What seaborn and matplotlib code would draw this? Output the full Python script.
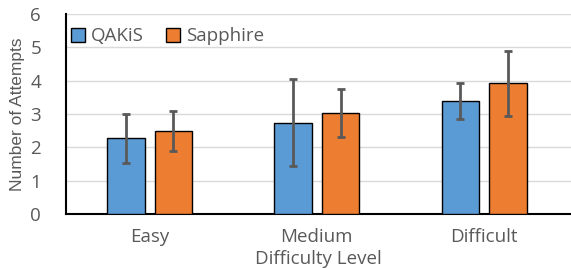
import matplotlib
matplotlib.use("Agg")
import matplotlib.pyplot as plt
import seaborn as sns
import pandas as pd
import numpy as np

levels = ["Easy", "Medium", "Difficult"]
systems = ["QAKiS", "Sapphire"]
qakis_mean = [2.27, 2.74, 3.39]
qakis_err = [0.73, 1.30, 0.55]
sapphire_mean = [2.49, 3.03, 3.92]
sapphire_err = [0.61, 0.73, 0.97]

df = pd.DataFrame({
    "level": levels * 2,
    "system": ["QAKiS"] * 3 + ["Sapphire"] * 3,
    "attempts": qakis_mean + sapphire_mean,
    "err": qakis_err + sapphire_err,
})

sns.set_style("white")
plt.rcParams["font.family"] = ["Open Sans", "DejaVu Sans"]
grey = "#595959"
fs = 13.5

fig = plt.figure(figsize=(5.71, 2.68), dpi=100)
ax = fig.add_axes([0.1156, 0.2015, 0.8844, 0.7463])

palette = {"QAKiS": "#5b9bd5", "Sapphire": "#ed7d31"}
sns.barplot(data=df, x="level", y="attempts", hue="system", hue_order=systems,
            order=levels, palette=palette, width=0.568, gap=0.21,
            errorbar=None, edgecolor="black", linewidth=1.0, saturation=1,
            ax=ax, zorder=3)

# error bars at bar centres
for cont, sys_name in zip(ax.containers, systems):
    sub = df[df.system == sys_name].set_index("level").loc[levels]
    xs = [p.get_x() + p.get_width() / 2 for p in cont.patches]
    ax.errorbar(xs, sub["attempts"], yerr=sub["err"], fmt="none",
                ecolor="#595959", elinewidth=2, capsize=3, capthick=2, zorder=4)

ax.set_ylim(0, 6)
ax.set_yticks(range(7))
ax.set_xlim(-0.5, 2.52)
ax.yaxis.grid(True, color="#d9d9d9", linewidth=1, zorder=0)
ax.set_axisbelow(True)
for s in ["top", "right"]:
    ax.spines[s].set_visible(False)
ax.spines["left"].set_color("black")
ax.spines["bottom"].set_color("black")
ax.spines["left"].set_linewidth(1.5)
ax.spines["bottom"].set_linewidth(1.5)
ax.tick_params(axis="both", length=0, colors=grey, labelsize=fs)
ax.tick_params(axis="x", pad=10)
ax.tick_params(axis="y", pad=18)

ax.set_xlabel("Difficulty Level", color=grey, fontsize=fs, labelpad=3)
ax.set_ylabel("Number of Attempts", color=grey, fontsize=12.5, labelpad=4,
              family=["Liberation Sans", "DejaVu Sans"])

ax.legend(loc="upper left", bbox_to_anchor=(-0.012, 0.99), ncol=2, frameon=False,
          fontsize=fs, handlelength=0.75, handleheight=0.75, handletextpad=0.3,
          columnspacing=1.2, labelcolor=grey, borderaxespad=0.2)

fig.savefig("out.png", dpi=100)
